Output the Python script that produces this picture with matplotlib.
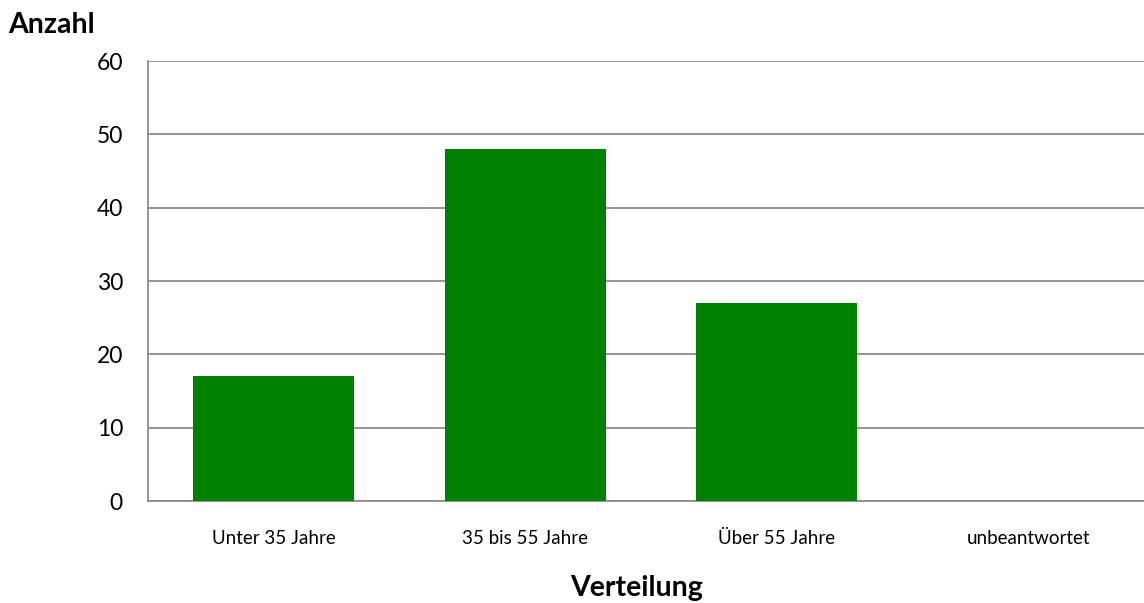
import matplotlib.pyplot as plt
import numpy as np

plt.rcParams['font.family'] = ['Lato', 'DejaVu Sans']

kategorien = ['Unter 35 Jahre', '35 bis 55 Jahre', 'Über 55 Jahre', 'unbeantwortet']
anzahl = [17, 48, 27, 0]
y_ticks = [0, 10, 20, 30, 40, 50, 60]

fig = plt.figure(figsize=(11.44, 6.03), dpi=100)
# plot area runs a bit past the right edge like in the original
ax = fig.add_axes([148/1144, 102/603, 1006/1144, 440/603])

x = np.arange(len(kategorien))
ax.bar(x, anzahl, width=0.64, color='#008000', zorder=3)

ax.set_xlim(-0.5, len(kategorien) - 0.5)
ax.set_ylim(0, 60)
ax.set_yticks(y_ticks)
ax.set_xticks(x)
ax.set_xticklabels(kategorien, fontsize=13.5)
ax.tick_params(axis='x', length=0, pad=21)
ax.tick_params(axis='y', length=0, pad=18, labelsize=16.5)

ax.grid(axis='y', color='#8c8c8c', linewidth=1.3, zorder=0)
for s in ['top', 'right']:
    ax.spines[s].set_visible(False)
for s in ['left', 'bottom']:
    ax.spines[s].set_color('#8c8c8c')
    ax.spines[s].set_linewidth(1.3)

fig.text(8/1144, 1 - 25/603, 'Anzahl', fontsize=20.5, fontweight='bold', va='center', ha='left')
fig.text(637/1144, 1 - 588/603, 'Verteilung', fontsize=20.5, fontweight='bold', va='center', ha='center')

fig.savefig('out.png', dpi=100)
